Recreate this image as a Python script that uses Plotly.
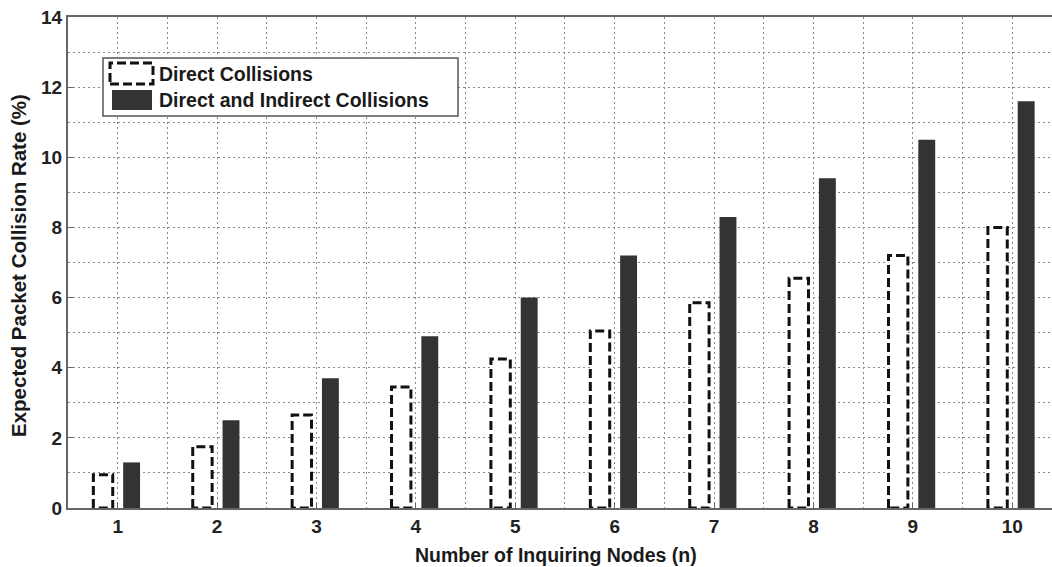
import plotly.graph_objects as go

# Data: expected packet collision rate (%) versus number of inquiring nodes
nodes = [1, 2, 3, 4, 5, 6, 7, 8, 9, 10]
direct = [0.95, 1.75, 2.65, 3.45, 4.25, 5.05, 5.85, 6.55, 7.2, 8.0]
direct_indirect = [1.3, 2.5, 3.7, 4.9, 6.0, 7.2, 8.3, 9.4, 10.5, 11.6]
series_names = ["Direct Collisions", "Direct and Indirect Collisions"]
x_title = "Number of Inquiring Nodes (n)"
y_title = "Expected Packet Collision Rate (%)"

W, H = 1052, 567
ML, MR, MT, MB = 68, 0, 17, 59
PW, PH = W - ML - MR, H - MT - MB

FONT = "Liberation Sans, Arial, sans-serif"
DARK = "#333333"
GRID = "#8a8a8a"


def px_x(px):
    return (px - ML) / PW


def px_y(py):
    return (H - MB - py) / PH


# Dashed-outline bars for direct collisions, built as closed outlines
left_off, right_off = -0.245, -0.05
dx, dy = [], []
for n, v in zip(nodes, direct):
    dx += [n + left_off, n + left_off, n + right_off, n + right_off, n + left_off, None]
    dy += [0, v, v, 0, 0, None]

fig = go.Figure()
fig.add_trace(go.Scatter(
    x=dx, y=dy, mode="lines", fill="toself", fillcolor="white",
    line=dict(color="#111111", width=3, dash="9px,4px"),
    name=series_names[0], showlegend=False, hoverinfo="skip",
))
fig.add_trace(go.Bar(
    x=nodes, y=direct_indirect, name=series_names[1],
    offset=0.055, width=0.17,
    marker=dict(color=DARK, line=dict(width=0)),
    showlegend=False,
))

axis_common = dict(
    showline=True, linecolor="#666666", linewidth=2,
    ticks="inside", ticklen=5, tickcolor="#666666", tickwidth=1,
    showgrid=True, gridcolor=GRID, gridwidth=1, griddash="2px,3px",
    zeroline=False,
    tickfont=dict(family=FONT, size=19, color="#222222", weight="bold"),
)

fig.update_xaxes(
    range=[0.5, 10.4], tickmode="array", tickvals=nodes,
    ticktext=[str(n) for n in nodes], mirror=True,
    minor=dict(dtick=0.5, tick0=0.5, showgrid=True, gridcolor=GRID,
               griddash="2px,3px", gridwidth=1, ticks=""),
    **axis_common,
)
fig.update_yaxes(
    range=[0, 14], dtick=2, tick0=0, mirror=False,
    minor=dict(dtick=1, tick0=0, showgrid=True, gridcolor=GRID,
               griddash="2px,3px", gridwidth=1, ticks=""),
    **axis_common,
)

shapes = [
    # legend frame
    dict(type="rect", xref="paper", yref="paper",
         x0=px_x(103), x1=px_x(458), y0=px_y(116), y1=px_y(58),
         line=dict(color="#555555", width=1.5), fillcolor="white", layer="above"),
    # legend key: dashed outline
    dict(type="rect", xref="paper", yref="paper",
         x0=px_x(110), x1=px_x(153), y0=px_y(84), y1=px_y(63),
         line=dict(color="#111111", width=3, dash="9px,4px"),
         fillcolor="white", layer="above"),
    # legend key: solid bar
    dict(type="rect", xref="paper", yref="paper",
         x0=px_x(112), x1=px_x(152), y0=px_y(110), y1=px_y(90),
         line=dict(width=0), fillcolor=DARK, layer="above"),
]

text_font = dict(family=FONT, size=19.5, color="#1a1a1a", weight="bold")
annotations = [
    dict(text=series_names[0], xref="paper", yref="paper",
         x=px_x(157), y=px_y(74), xanchor="left", yanchor="middle",
         showarrow=False, font=text_font),
    dict(text=series_names[1], xref="paper", yref="paper",
         x=px_x(157), y=px_y(100), xanchor="left", yanchor="middle",
         showarrow=False, font=text_font),
    dict(text=x_title, xref="paper", yref="paper",
         x=px_x(556), y=px_y(555), xanchor="center", yanchor="middle",
         showarrow=False, font=text_font),
    dict(text=y_title, xref="paper", yref="paper",
         x=px_x(18), y=px_y(266), xanchor="center", yanchor="middle",
         textangle=-90, showarrow=False,
         font=dict(family=FONT, size=20.5, color="#1a1a1a", weight="bold")),
]

fig.update_layout(
    width=W, height=H,
    margin=dict(l=ML, r=MR, t=MT, b=MB, autoexpand=False),
    paper_bgcolor="white", plot_bgcolor="white",
    barmode="overlay", showlegend=False,
    shapes=shapes, annotations=annotations,
)

fig.write_html("out.html")
